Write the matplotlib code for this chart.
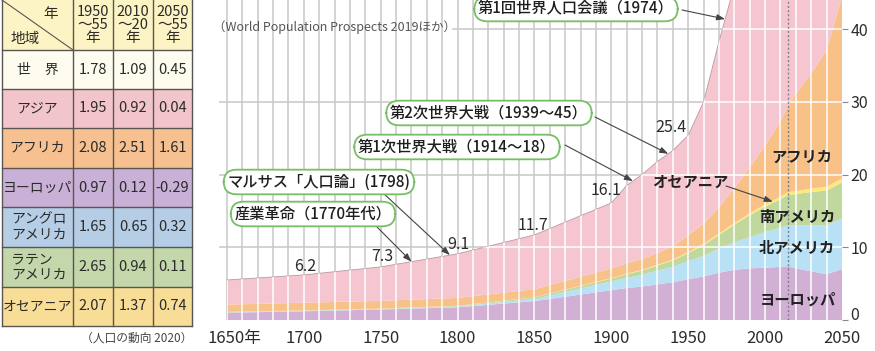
import numpy as np
import matplotlib
matplotlib.use("Agg")
import matplotlib.pyplot as plt
from matplotlib.patches import Rectangle
from matplotlib.transforms import ScaledTranslation

plt.rcParams["font.family"] = ["Noto Sans CJK JP", "DejaVu Sans"]
TXT = "#2b2b2b"

# 地域別人口の推移（億人）
years = [1650, 1700, 1750, 1800, 1850, 1900, 1910, 1920, 1930, 1940, 1950,
         1960, 1970, 1980, 1990, 2000, 2010, 2015, 2020, 2030, 2040, 2050]
world = [5.5, 6.2, 7.3, 9.1, 11.7, 16.1, 18.5, 20.0, 21.8, 23.3, 25.4,
         30.0, 38.3, 46.0, 53.3, 61.4, 69.6, 73.8, 77.9, 85.5, 91.9, 97.4]
europe = [1.0, 1.2, 1.45, 1.75, 2.6, 4.1, 4.4, 4.6, 4.9, 5.2, 5.6,
          6.0, 6.5, 6.9, 7.1, 7.2, 7.3, 7.4, 7.1, 6.7, 6.3, 7.0]
north_am = [0.05, 0.05, 0.05, 0.1, 0.3, 1.2, 1.4, 1.6, 1.9, 2.1, 2.5,
            2.8, 3.3, 3.8, 4.3, 4.9, 5.4, 5.6, 5.9, 6.3, 6.7, 7.0]
south_am = [0.05, 0.05, 0.05, 0.1, 0.2, 0.4, 0.5, 0.6, 0.7, 0.9, 1.1,
            1.5, 1.9, 2.4, 3.0, 3.5, 3.9, 4.2, 4.3, 4.6, 4.8, 4.9]
oceania = [0.02, 0.02, 0.02, 0.02, 0.02, 0.06, 0.07, 0.09, 0.1, 0.11, 0.13,
           0.16, 0.19, 0.23, 0.27, 0.31, 0.37, 0.4, 0.43, 0.48, 0.52, 0.57]
africa = [1.0, 1.06, 1.06, 1.07, 1.11, 1.33, 1.4, 1.5, 1.6, 1.8, 2.3,
          2.8, 3.6, 4.8, 6.3, 8.1, 10.4, 11.8, 13.4, 15.8, 18.8, 25.0]

labeled_years = [1700, 1750, 1800, 1850, 1900, 1950]

events = ["第1回世界人口会議（1974）", "第2次世界大戦（1939〜45）",
          "第1次世界大戦（1914〜18）", "マルサス「人口論」(1798)",
          "産業革命（1770年代）"]
event_years = [1974, 1937, 1914, 1795, 1770]

# 人口増加率（%）
table_regions = ["世　界", "アジア", "アフリカ", "ヨーロッパ",
                 "アングロ\nアメリカ", "ラテン\nアメリカ", "オセアニア"]
table_periods = ["1950\n〜55\n年", "2010\n〜20\n年", "2050\n〜55\n年"]
rate_1950 = [1.78, 1.95, 2.08, 0.97, 1.65, 2.65, 2.07]
rate_2010 = [1.09, 0.92, 2.51, 0.12, 0.65, 0.94, 1.37]
rate_2050 = [0.45, 0.04, 1.61, -0.29, 0.32, 0.11, 0.74]

W, H = 875, 351
fig = plt.figure(figsize=(W / 100, H / 100), dpi=100)
ax = fig.add_axes([219.3 / W, 31 / H, (842 - 219.3) / W, 320 / H])
ax.set_xlim(1645, 2050)
ax.set_ylim(0, 44)
for s in ax.spines.values():
    s.set_visible(False)

asia = np.array(world) - np.sum([europe, north_am, south_am, oceania, africa], axis=0)
layers = [europe, north_am, south_am, oceania, africa, asia]
colors = ["#d2b0d5", "#b9e1f6", "#c0d79e", "#fbe97c", "#f8c188", "#f6c6d0"]
ax.stackplot(years, layers, colors=colors, lw=0, zorder=2)
ax.plot(years, world, color="#b89aa2", lw=0.6, zorder=2.5)

# grid: grey on the background, white over the filled area
area = ax.fill_between(years, 0, world, color="none", lw=0)
clip = area.get_paths()[0]
for yr in range(1650, 2050, 10):
    ax.axvline(yr, color="#c8c8c8", lw=1.1, zorder=1)
    wl = ax.axvline(yr, color="white", lw=1.1, zorder=3)
    wl.set_clip_path(clip, ax.transData)
for v in (10, 20, 30, 40):
    xmin = 0.375 if v == 40 else 0
    ax.axhline(v, xmin=xmin, color="#c8c8c8", lw=1.1, zorder=1)
    wl = ax.axhline(v, color="white", lw=1.1, zorder=3)
    wl.set_clip_path(clip, ax.transData)

ax.axvline(2015, color="#808080", ls=(0, (1.5, 1.5)), lw=1.0, zorder=4)

ax.yaxis.tick_right()
ax.set_yticks([0, 10, 20, 30, 40])
ax.tick_params(axis="y", length=4, color="#8a8a8a", labelsize=11.5,
               labelcolor=TXT, pad=2)
ax.set_xticks(range(1650, 2051, 50))
ax.set_xticklabels(["1650年"] + [str(y) for y in range(1700, 2051, 50)])
ax.tick_params(axis="x", length=0, labelsize=12, labelcolor=TXT, pad=7)
ax.get_xticklabels()[0].set_transform(
    ax.get_xticklabels()[0].get_transform()
    + ScaledTranslation(0.07, 0, fig.dpi_scale_trans))
ax.get_yticklabels()[0].set_transform(
    ax.get_yticklabels()[0].get_transform()
    + ScaledTranslation(0, 0.07, fig.dpi_scale_trans))

# world totals above the curve
offsets = [(1, 8), (2, 10), (1, 9), (-1, 9), (-5, 12), (-17, 8)]
for yr, (dx, dy) in zip(labeled_years, offsets):
    w = world[years.index(yr)]
    ax.annotate(f"{w}", (yr, w), xytext=(dx, dy), textcoords="offset pixels",
                ha="center", va="center", fontsize=11.5, color=TXT, zorder=6)

# overlay in pixel units for the table and callouts
ov = fig.add_axes([0, 0, 1, 1], zorder=5)
ov.set_xlim(0, W)
ov.set_ylim(H, 0)
ov.axis("off")

col_x = [2, 73, 113, 153, 192]
row_y = [0, 50, 89, 128, 168, 207, 247, 287, 326]
row_colors = ["#fdfcef", "#f2c5cd", "#f6c090", "#c9b0d6", "#b6cde6",
              "#c3d7ab", "#f8dd97"]
ov.add_patch(Rectangle((col_x[0], row_y[0]), col_x[-1] - col_x[0],
                       row_y[1] - row_y[0], fc="#fcf4c4", ec="none"))
for i, c in enumerate(row_colors):
    ov.add_patch(Rectangle((col_x[0], row_y[i + 1]), col_x[-1] - col_x[0],
                           row_y[i + 2] - row_y[i + 1], fc=c, ec="none"))
for x in col_x:
    ov.plot([x, x], [row_y[0], row_y[-1]], color="#5a5550", lw=1.0)
for y in row_y[1:]:
    ov.plot([col_x[0], col_x[-1]], [y, y], color="#5a5550", lw=1.0)
ov.plot([col_x[0], col_x[1]], [row_y[0], row_y[1]], color="#5a5550", lw=0.8)
ov.text(51, 14, "年", fontsize=10.5, color=TXT, ha="center", va="center")
ov.text(25, 39, "地域", fontsize=10.5, color=TXT, ha="center", va="center")
for j, p in enumerate(table_periods):
    ov.text((col_x[j + 1] + col_x[j + 2]) / 2, 25, p, fontsize=10.5,
            color=TXT, ha="center", va="center", linespacing=0.92)
for i, r in enumerate(table_regions):
    cy = (row_y[i + 1] + row_y[i + 2]) / 2
    if "\n" in r:
        ov.text(11, cy, r, fontsize=10, color=TXT, ha="left", va="center",
                linespacing=1.05)
    else:
        ov.text((col_x[0] + col_x[1]) / 2, cy, r, fontsize=10, color=TXT,
                ha="center", va="center")
    for j, vals in enumerate((rate_1950, rate_2010, rate_2050)):
        ov.text((col_x[j + 1] + col_x[j + 2]) / 2, cy, f"{vals[i]:.2f}",
                fontsize=10.5, color=TXT, ha="center", va="center")
ov.text(192, 338, "（人口の動向 2020）", fontsize=8.5, color="#444",
        ha="right", va="center")
ov.text(213, 27, "（World Population Prospects 2019ほか）", fontsize=9,
        color="#555", ha="left", va="center")

# event callouts
box_centers = [(576, 9), (489, 113), (457, 147), (319, 182), (313, 214)]
arrow_starts = [(682, 10), (595, 117), (565, 145), (383, 193), (377, 227)]
for label, yr, (cx, cy), (sx, sy) in zip(events, event_years, box_centers,
                                         arrow_starts):
    ov.annotate("", xy=(yr, np.interp(yr, years, world)), xycoords=ax.transData,
                xytext=(sx, sy), textcoords="data",
                arrowprops=dict(arrowstyle="-|>,head_length=0.5,head_width=0.18",
                                color="#444", lw=0.8, shrinkA=0, shrinkB=0))
    ov.text(cx, cy, label, fontsize=11, fontweight="medium", color="#1e1e1e",
            ha="center", va="center",
            bbox=dict(boxstyle="round,pad=0.25,rounding_size=0.85",
                      fc="white", ec="#76bf62", lw=1.3))

# region names
region_names = ["アフリカ", "南アメリカ", "北アメリカ", "ヨーロッパ"]
region_pos = [(802, 157), (797, 217), (797, 248), (798, 300)]
for name, (x, y) in zip(region_names, region_pos):
    ov.text(x, y, name, fontsize=11, fontweight="bold", color="#222",
            ha="center", va="center")
oc_year = 2005
oc_mid = np.interp(oc_year, years, np.array(europe) + north_am + south_am
                   + np.array(oceania) / 2)
ov.text(690, 182, "オセアニア", fontsize=11, fontweight="bold", color="#222",
        ha="center", va="center")
ov.annotate("", xy=(oc_year, oc_mid), xycoords=ax.transData, xytext=(726, 186),
            textcoords="data",
            arrowprops=dict(arrowstyle="-|>,head_length=0.5,head_width=0.18",
                            color="#444", lw=0.8, shrinkA=0, shrinkB=0))

fig.savefig("out.png", dpi=100)
